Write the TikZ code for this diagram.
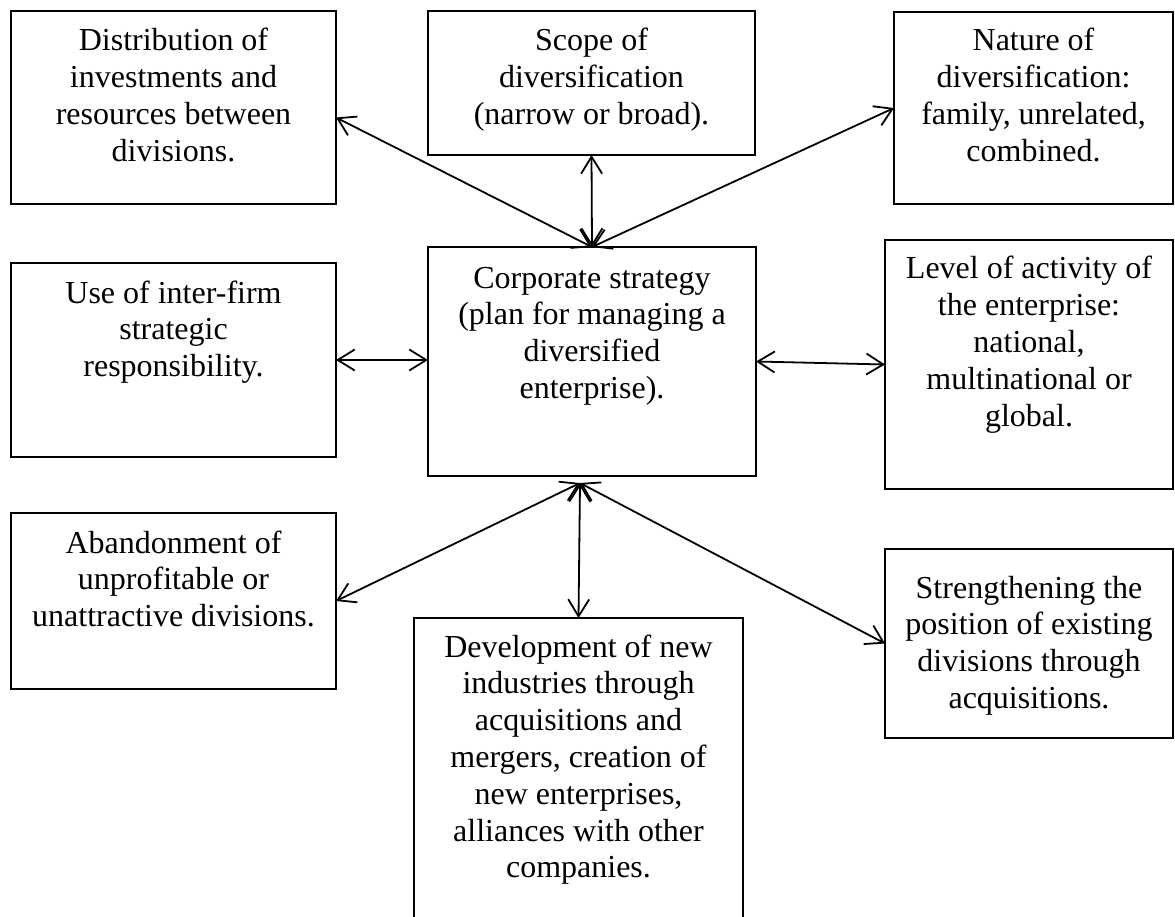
\documentclass[tikz,border=0pt]{standalone}
\usepackage{fontspec}
\setmainfont{Liberation Serif}
\usetikzlibrary{arrows.meta}

\tikzset{
  box/.style={draw, line width=1.4pt, inner sep=0pt, outer sep=0pt},
  lbl/.style={anchor=base, inner sep=0pt, font=\fontsize{32pt}{36.8pt}\selectfont},
  arr/.style={line width=1.8pt,
    {Straight Barb[length=17pt,width=21pt]}-{Straight Barb[length=17pt,width=21pt]}}
}
\newcommand{\boxtext}[1]{\parbox[t]{10cm}{\centering #1}}

\begin{document}
\begin{tikzpicture}[x=1pt,y=-1pt]
\useasboundingbox (0,0) rectangle (1175,917);
\clip (0,0) rectangle (1175,917);

% boxes
\node[box, minimum width=325pt, minimum height=193pt] (tl)  at (173.5,107.5) {};
\node[box, minimum width=327pt, minimum height=144pt] (sc)  at (591.5,83)    {};
\node[box, minimum width=279pt, minimum height=192pt] (nat) at (1033.5,108)  {};
\node[box, minimum width=325pt, minimum height=194pt] (ml)  at (173.5,360)   {};
\node[box, minimum width=328pt, minimum height=229pt] (cs)  at (592,361.5)   {};
\node[box, minimum width=288pt, minimum height=249pt] (mr)  at (1029,364.5)  {};
\node[box, minimum width=325pt, minimum height=176pt] (bl)  at (173.5,601)   {};
\node[box, minimum width=329pt, minimum height=340pt] (bc)  at (578.5,788)   {};
\node[box, minimum width=288pt, minimum height=189pt] (br)  at (1029,643.5)  {};

% texts
\node[lbl] (tlt)  at ([yshift=-40pt]tl.north)  {\boxtext{Distribution of\\investments and\\resources between\\divisions.}};
\node[lbl] (sct)  at ([yshift=-40pt]sc.north)  {\boxtext{Scope of\\diversification\\(narrow or broad).}};
\node[lbl] (natt) at ([yshift=-39pt]nat.north) {\boxtext{Nature of\\diversification:\\family, unrelated,\\combined.}};
\node[lbl] (mlt)  at ([yshift=-40pt]ml.north)  {\boxtext{Use of inter-firm\\strategic\\responsibility.}};
\node[lbl] (cst)  at ([yshift=-41pt]cs.north)  {\boxtext{Corporate strategy\\(plan for managing a\\diversified\\enterprise).}};
\node[lbl] (mrt)  at ([yshift=-39pt]mr.north)  {\boxtext{Level of activity of\\the enterprise:\\national,\\multinational or\\global.}};
\node[lbl] (blt)  at ([yshift=-40pt]bl.north)  {\boxtext{Abandonment of\\unprofitable or\\unattractive divisions.}};
\node[lbl] (bct)  at ([yshift=-39pt]bc.north)  {\boxtext{Development of new\\industries through\\acquisitions and\\mergers, creation of\\new enterprises,\\alliances with other\\companies.}};
\node[lbl] (brt)  at ([yshift=-49pt]br.north)  {\boxtext{Strengthening the\\position of existing\\divisions through\\acquisitions.}};

% junction points above and below the central box
\coordinate (jt) at (cs.north);
\coordinate (jb) at ([xshift=-12pt,yshift=-7pt]cs.south);

% connectors
\draw[arr] ([yshift=-10pt]tl.east) -- (jt);
\draw[arr] (sc.south) -- (jt);
\draw[arr] (jt) -- (nat.west);
\draw[arr] (ml.east) -- (ml.east -| cs.west);
\draw[arr] (cs.east) -- (mr.west);
\draw[arr] (jb) -- (bl.east);
\draw[arr] (jb) -- (bc.north);
\draw[arr] (jb) -- (br.west);
\end{tikzpicture}
\end{document}
